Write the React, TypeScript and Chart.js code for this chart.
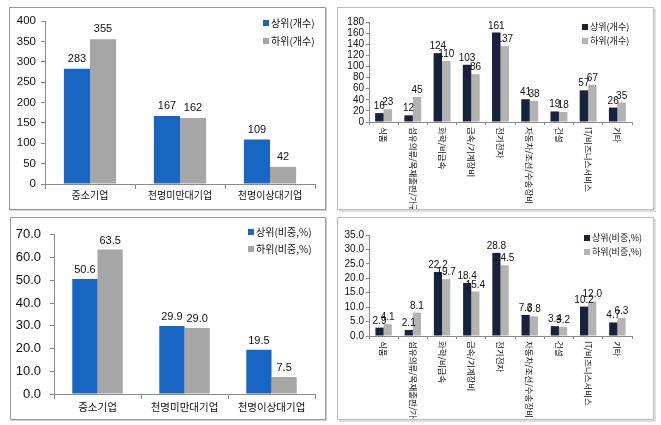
import React, { useEffect, useRef, useState } from 'react';
import { Chart, registerables } from 'chart.js';

Chart.register(...registerables);

// ---------- data ----------
const sizeCategories = ['중소기업', '천명미만대기업', '천명이상대기업'];
const sizeTopCount = [283, 167, 109];
const sizeBottomCount = [355, 162, 42];
const sizeTopShare = [50.6, 29.9, 19.5];
const sizeBottomShare = [63.5, 29.0, 7.5];

const industryCategories = [
  '식품',
  '섬유의류/목재출판/가구',
  '화학/비금속',
  '금속/기계장비',
  '전기전자',
  '자동차/조선/수송장비',
  '건설',
  'IT/비즈니스서비스',
  '기타',
];
const industryTopCount = [16, 12, 124, 103, 161, 41, 19, 57, 26];
const industryBottomCount = [23, 45, 110, 86, 137, 38, 18, 67, 35];
const industryTopShare = [2.9, 2.1, 22.2, 18.4, 28.8, 7.3, 3.4, 10.2, 4.7];
const industryBottomShare = [4.1, 8.1, 19.7, 15.4, 24.5, 6.8, 3.2, 12.0, 6.3];

const seriesNames = {
  topCount: '상위(개수)',
  bottomCount: '하위(개수)',
  topShare: '상위(비중,%)',
  bottomShare: '하위(비중,%)',
};

const sizeCountAxis = { max: 400, step: 50 };
const sizeShareAxis = { max: 70, step: 10 };
const industryCountAxis = { max: 180, step: 20 };
const industryShareAxis = { max: 35, step: 5 };

// ---------- styles ----------
const NUM = '"Liberation Sans", Arial, sans-serif';
const KR = '"Noto Sans CJK KR", "Liberation Sans", sans-serif';
const BLUE = '#1866c2';
const GRAY_L = '#a6a6a6';
const NAVY = '#17233d';
const GRAY_R = '#b3b3b3';
const AXIS = '#8a8a8a';

// ---------- plugins ----------
const valueLabels = {
  id: 'valueLabels',
  afterDatasetsDraw(chart: any, _a: any, opts: any) {
    const ctx = chart.ctx;
    ctx.save();
    ctx.font = opts.labelFont;
    ctx.fillStyle = '#111';
    ctx.textAlign = 'center';
    ctx.textBaseline = 'alphabetic';
    chart.data.datasets.forEach((ds: any, di: number) => {
      const meta = chart.getDatasetMeta(di);
      meta.data.forEach((el: any, i: number) => {
        const v = ds.data[i];
        const txt = opts.decimals ? Number(v).toFixed(opts.decimals) : String(v);
        ctx.fillText(txt, el.x, el.y - opts.offset);
      });
    });
    ctx.restore();
  },
};

const boxLegend = {
  id: 'boxLegend',
  afterDraw(chart: any, _a: any, opts: any) {
    const ctx = chart.ctx;
    ctx.save();
    ctx.font = opts.labelFont;
    ctx.textBaseline = 'middle';
    ctx.textAlign = 'left';
    chart.data.datasets.forEach((ds: any, i: number) => {
      const y = opts.posY + i * opts.dy;
      ctx.fillStyle = ds.backgroundColor;
      ctx.fillRect(opts.posX, y - opts.box / 2, opts.box, opts.box);
      ctx.fillStyle = '#111';
      ctx.fillText(ds.label, opts.posX + opts.box + opts.gap, y);
    });
    ctx.restore();
  },
};

const verticalLabels = {
  id: 'verticalLabels',
  afterDraw(chart: any, _a: any, opts: any) {
    if (!opts || !opts.enabled) return;
    const ctx = chart.ctx;
    const xs = chart.scales.x;
    ctx.save();
    ctx.font = opts.labelFont;
    ctx.fillStyle = '#111';
    ctx.textAlign = 'left';
    ctx.textBaseline = 'middle';
    (chart.data.labels as string[]).forEach((lab: string, i: number) => {
      const x = xs.getPixelForValue(i);
      ctx.save();
      ctx.translate(x, chart.chartArea.bottom + opts.offset);
      ctx.rotate(Math.PI / 2);
      ctx.fillText(lab, 0, 0);
      ctx.restore();
    });
    ctx.restore();
  },
};

type Cfg = {
  labels: string[];
  a: number[];
  b: number[];
  aName: string;
  bName: string;
  aColor: string;
  bColor: string;
  axis: { max: number; step: number };
  decimals: number;
  yFont: number;
  yWidth: number;
  yTickLen: number;
  yPad: number;
  xHeight: number;
  xFont: number;
  xTickLen: number;
  xPad: number;
  vertical: boolean;
  padding: { top: number; right: number; left: number; bottom: number };
  valFont: number;
  valOffset: number;
  legend: { posX: number; posY: number; dy: number; box: number; gap: number; labelFont: string };
  catPct: number;
};

function makeConfig(c: Cfg): any {
  const yW = c.yWidth;
  const xH = c.xHeight;
  return {
    type: 'bar',
    data: {
      labels: c.labels,
      datasets: [
        { label: c.aName, data: c.a, backgroundColor: c.aColor, barPercentage: 1, categoryPercentage: c.catPct },
        { label: c.bName, data: c.b, backgroundColor: c.bColor, barPercentage: 1, categoryPercentage: c.catPct },
      ],
    },
    plugins: [valueLabels, boxLegend, verticalLabels],
    options: {
      responsive: false,
      animation: false,
      layout: { padding: c.padding },
      plugins: {
        legend: { display: false },
        tooltip: { enabled: false },
        valueLabels: { labelFont: `${c.valFont}px ${NUM}`, offset: c.valOffset, decimals: c.decimals },
        boxLegend: c.legend,
        verticalLabels: { enabled: c.vertical, labelFont: `${c.xFont}px ${KR}`, offset: 5 },
      },
      scales: {
        x: {
          grid: {
            offset: true,
            drawOnChartArea: false,
            drawTicks: true,
            tickLength: c.xTickLen,
            color: AXIS,
          },
          border: { display: true, color: AXIS, width: 1 },
          ticks: {
            display: !c.vertical,
            autoSkip: false,
            maxRotation: 0,
            minRotation: 0,
            padding: c.xPad,
            color: '#111',
            font: { family: KR, size: c.xFont },
          },
          afterFit(scale: any) {
            scale.height = xH;
          },
        },
        y: {
          min: 0,
          max: c.axis.max,
          grid: {
            drawOnChartArea: false,
            drawTicks: true,
            tickLength: c.yTickLen,
            color: AXIS,
          },
          border: { display: true, color: AXIS, width: 1 },
          ticks: {
            stepSize: c.axis.step,
            autoSkip: false,
            padding: c.yPad,
            color: '#111',
            font: { family: NUM, size: c.yFont },
            callback: (v: any) => (c.decimals ? Number(v).toFixed(c.decimals) : String(v)),
          },
          afterFit(scale: any) {
            scale.width = yW;
          },
        },
      },
    },
  };
}

function Panel(props: { x: number; y: number; w: number; h: number; border: string; shadow?: string; cfg: Cfg }) {
  const ref = useRef<HTMLCanvasElement | null>(null);
  const [err, setErr] = useState('');
  const { x, y, w, h, border, shadow, cfg } = props;
  useEffect(() => {
    let chart: any = null;
    try {
      chart = new Chart(ref.current as any, makeConfig(cfg));
    } catch (e: any) {
      setErr(String(e && e.stack ? e.stack : e));
    }
    return () => {
      if (chart) chart.destroy();
    };
  }, []);
  return (
    <div
      style={{
        position: 'absolute',
        left: x,
        top: y,
        width: w,
        height: h,
        boxSizing: 'border-box',
        border,
        boxShadow: shadow,
        background: '#fff',
        overflow: 'hidden',
      }}
    >
      <canvas ref={ref} width={w - 2} height={h - 2} style={{ display: 'block', width: w - 2, height: h - 2 }} />
      {err ? <pre style={{ position: 'absolute', left: 0, top: 0, fontSize: 8, whiteSpace: 'pre-wrap', margin: 0 }}>{err}</pre> : null}
    </div>
  );
}

export default function App() {
  const legendLeft = { box: 6, gap: 2, labelFont: `10px ${KR}` };
  const legendRight = { box: 6, gap: 2, labelFont: `9px ${KR}` };

  const tl: Cfg = {
    labels: sizeCategories,
    a: sizeTopCount,
    b: sizeBottomCount,
    aName: seriesNames.topCount,
    bName: seriesNames.bottomCount,
    aColor: BLUE,
    bColor: GRAY_L,
    axis: sizeCountAxis,
    decimals: 0,
    yFont: 11.5,
    yWidth: 35,
    yTickLen: 4,
    yPad: 5,
    xHeight: 25,
    xFont: 10,
    xTickLen: 5,
    xPad: 0,
    vertical: false,
    padding: { top: 13, right: 10, left: 0, bottom: 0 },
    valFont: 11,
    valOffset: 7,
    legend: { posX: 253, posY: 15, dy: 18, ...legendLeft },
    catPct: 0.58,
  };

  const bl: Cfg = {
    labels: sizeCategories,
    a: sizeTopShare,
    b: sizeBottomShare,
    aName: seriesNames.topShare,
    bName: seriesNames.bottomShare,
    aColor: BLUE,
    bColor: GRAY_L,
    axis: sizeShareAxis,
    decimals: 1,
    yFont: 13,
    yWidth: 43,
    yTickLen: 4,
    yPad: 9,
    xHeight: 25,
    xFont: 10.5,
    xTickLen: 5,
    xPad: 2,
    vertical: false,
    padding: { top: 10, right: 10, left: 0, bottom: 0 },
    valFont: 11,
    valOffset: 6,
    legend: { posX: 237, posY: 14, dy: 17, ...legendLeft },
    catPct: 0.58,
  };

  const tr: Cfg = {
    labels: industryCategories,
    a: industryTopCount,
    b: industryBottomCount,
    aName: seriesNames.topCount,
    bName: seriesNames.bottomCount,
    aColor: NAVY,
    bColor: GRAY_R,
    axis: industryCountAxis,
    decimals: 0,
    yFont: 10,
    yWidth: 31,
    yTickLen: 3,
    yPad: 2,
    xHeight: 87,
    xFont: 8.5,
    xTickLen: 3,
    xPad: 0,
    vertical: true,
    padding: { top: 14, right: 21, left: 0, bottom: 0 },
    valFont: 10,
    valOffset: 4,
    legend: { posX: 244, posY: 19, dy: 14, ...legendRight },
    catPct: 0.58,
  };

  const br: Cfg = {
    labels: industryCategories,
    a: industryTopShare,
    b: industryBottomShare,
    aName: seriesNames.topShare,
    bName: seriesNames.bottomShare,
    aColor: NAVY,
    bColor: GRAY_R,
    axis: industryShareAxis,
    decimals: 1,
    yFont: 10,
    yWidth: 31,
    yTickLen: 3,
    yPad: 2,
    xHeight: 83,
    xFont: 8.5,
    xTickLen: 3,
    xPad: 0,
    vertical: true,
    padding: { top: 17, right: 21, left: 0, bottom: 0 },
    valFont: 10,
    valOffset: 4,
    legend: { posX: 246, posY: 20, dy: 14, ...legendRight },
    catPct: 0.56,
  };

  return (
    <div>
      <Panel x={9} y={7} w={317} h={203} border="1px solid #9a9a9a" shadow="1px 1px 0 #d0d0d0" cfg={tl} />
      <Panel x={10} y={217} w={316} h={203} border="1px solid #9a9a9a" shadow="1px 1px 0 #d0d0d0" cfg={bl} />
      <Panel x={337} y={7} w={317} h={203} border="1px solid #bdbdbd" shadow="2px 2px 0 #dedede" cfg={tr} />
      <Panel x={337} y={217} w={317} h={203} border="1px solid #bdbdbd" shadow="2px 2px 0 #dedede" cfg={br} />
    </div>
  );
}
